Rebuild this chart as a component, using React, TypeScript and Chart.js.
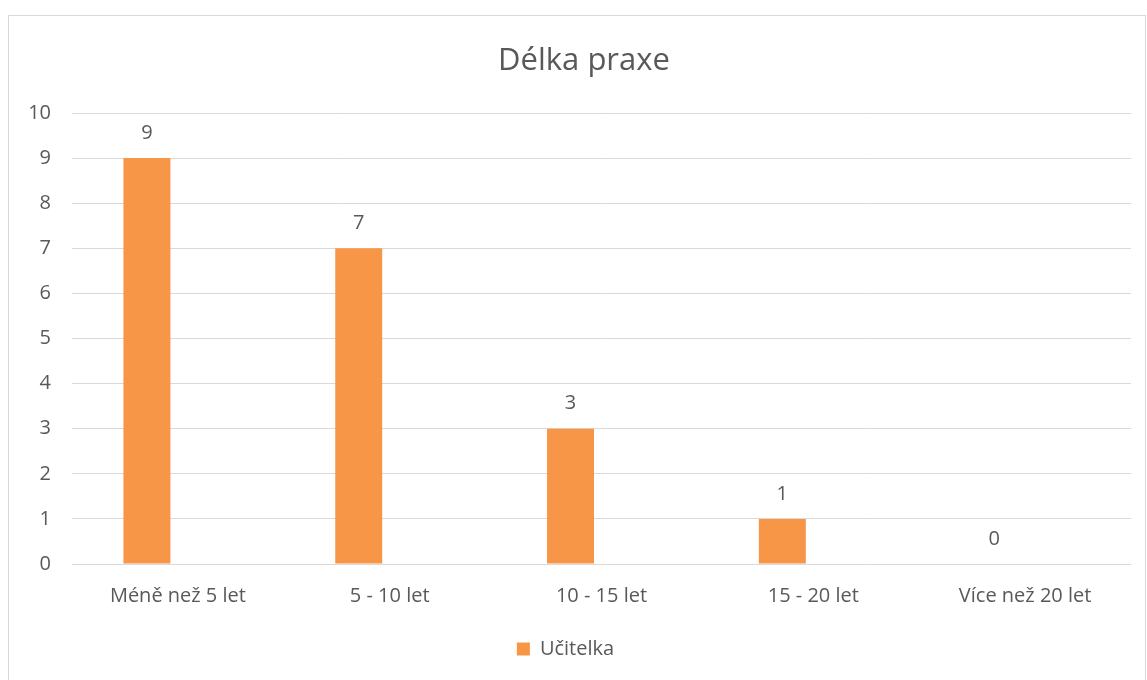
import React, { useEffect, useRef } from "react";
import { Chart, registerables } from "chart.js";

Chart.register(...registerables);

const categories = ["Méně než 5 let", "5 - 10 let", "10 - 15 let", "15 - 20 let", "Více než 20 let"];
const seriesName = "Učitelka";
const values = [9, 7, 3, 1, 0];
const yTicks = [0, 1, 2, 3, 4, 5, 6, 7, 8, 9, 10];
const titleText = "Délka praxe";

const FONT = "'Open Sans', 'DejaVu Sans', sans-serif";
const TEXT = "#595959";

const framePlugin = {
  id: "frame",
  beforeDraw(chart: any) {
    const ctx = chart.ctx;
    ctx.save();
    ctx.fillStyle = "#ffffff";
    ctx.fillRect(0, 0, chart.width, chart.height);
    ctx.strokeStyle = "#d9d9d9";
    ctx.lineWidth = 1;
    ctx.strokeRect(8.5, 15.5, 1137, 700);
    ctx.fillStyle = TEXT;
    ctx.font = `31px ${FONT}`;
    ctx.textAlign = "center";
    ctx.textBaseline = "middle";
    ctx.fillText(titleText, 584, 61);
    ctx.restore();
  },
};

const labelPlugin = {
  id: "barLabels",
  afterDatasetsDraw(chart: any) {
    const ctx = chart.ctx;
    const meta = chart.getDatasetMeta(0);
    ctx.save();
    ctx.fillStyle = TEXT;
    ctx.font = `20px ${FONT}`;
    ctx.textAlign = "center";
    ctx.textBaseline = "middle";
    meta.data.forEach((bar: any, i: number) => {
      ctx.fillText(String(values[i]), bar.x, bar.y - 25);
    });
    ctx.restore();
  },
};

export default function App() {
  const ref = useRef<HTMLCanvasElement | null>(null);
  useEffect(() => {
    if (!ref.current) return;
    const chart = new Chart(ref.current, {
      type: "bar",
      data: {
        labels: categories,
        datasets: [
          {
            label: seriesName,
            data: values,
            backgroundColor: "#F79646",
            borderWidth: 0,
            categoryPercentage: 0.585,
            barPercentage: 0.758,
          },
          {
            label: "",
            data: categories.map(() => null),
            backgroundColor: "rgba(0,0,0,0)",
            categoryPercentage: 0.585,
            barPercentage: 0.758,
          },
        ],
      },
      options: {
        animation: false,
        responsive: false,
        layout: { padding: { left: 0, right: 16, top: 113, bottom: 11 } },
        plugins: {
          title: { display: false },
          tooltip: { enabled: false },
          legend: {
            display: true,
            position: "bottom",
            labels: {
              filter: (item: any) => item.datasetIndex === 0,
              color: TEXT,
              font: { family: FONT, size: 20 },
              boxWidth: 13,
              boxHeight: 13,
              padding: 8,
            },
          },
        },
        scales: {
          x: {
            grid: { display: false, drawTicks: false },
            border: { display: false },
            ticks: { color: TEXT, font: { family: FONT, size: 20 }, padding: 20 },
            afterFit: (s: any) => {
              s.height = 67;
            },
          },
          y: {
            min: 0,
            max: 10,
            afterBuildTicks: (s: any) => {
              s.ticks = yTicks.map((v) => ({ value: v }));
            },
            grid: { color: "#d9d9d9", lineWidth: 1, drawTicks: false },
            border: { display: false },
            ticks: { color: TEXT, font: { family: FONT, size: 20 }, padding: 21 },
            afterFit: (s: any) => {
              s.width = 72;
            },
          },
        },
      },
      plugins: [framePlugin, labelPlugin],
    });
    return () => chart.destroy();
  }, []);
  return (
    <div style={{ position: "fixed", left: 0, top: 0, width: 1147, height: 680, background: "#fff" }}>
      <canvas ref={ref} width={1147} height={680} style={{ width: 1147, height: 680, display: "block" }} />
    </div>
  );
}
